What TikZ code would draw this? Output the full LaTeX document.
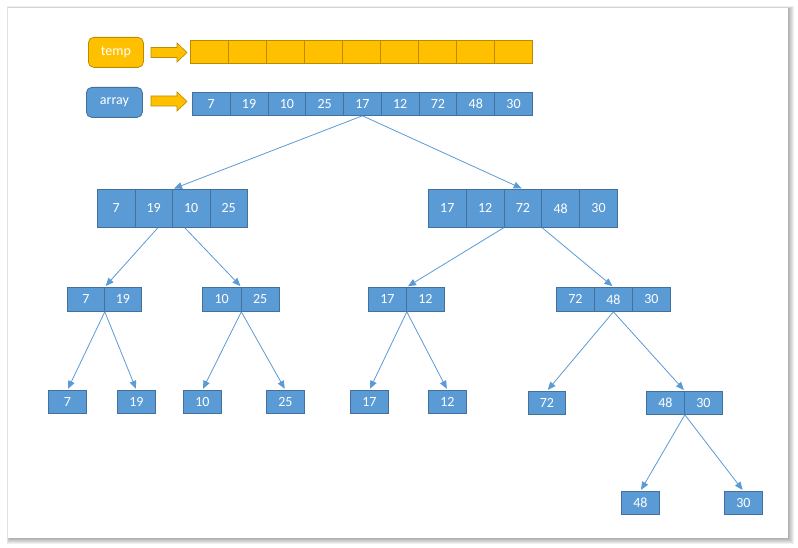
\documentclass[tikz,border=0pt]{standalone}
\usepackage{fontspec}
\setmainfont{Carlito}
\usetikzlibrary{arrows.meta,calc}
\definecolor{bfill}{HTML}{5B9BD5}
\definecolor{bdraw}{HTML}{41719C}
\definecolor{ofill}{HTML}{FFC000}
\definecolor{odraw}{HTML}{BC8C00}
\definecolor{acol}{HTML}{5B9BD5}
\tikzset{
  cellbox/.style={draw=bdraw,fill=bfill,text=white,inner sep=0pt,anchor=north west,line width=0.6pt,font=\fontsize{10.5}{12}\selectfont,text depth=-1pt},
  tcell/.style={draw=odraw,fill=ofill,inner sep=0pt,anchor=north west,line width=0.6pt},
  labbox/.style={rounded corners=4pt,text=white,inner sep=0pt,anchor=north west,line width=0.6pt,font=\fontsize{10.5}{12}\selectfont},
  arr/.style={draw=acol,line width=0.6pt,-{Triangle[length=6pt,width=5pt]},shorten >=1pt},
  barrow/.style={fill=ofill,draw=odraw,line width=0.5pt},
}
\newcommand\brow[6]{%
  \foreach \v [count=\i] in {#6} {
    \node[cellbox,minimum width=#4*0.75pt,minimum height=#5*0.75pt] (#1-\i) at ({#2+(\i-1)*#4},#3) {\v};
  }}
\begin{document}
\begin{tikzpicture}[x=0.75pt,y=-0.75pt]
\useasboundingbox (0,0) rectangle (798,548);
% frame with shadow
\foreach \k in {0,1,2,3,4,5} {
  \fill[black,opacity=0.06] ({8-\k*0.5+1},{8-\k*0.5+1}) rectangle ({788+\k+1},{538+\k+1});
}
\fill[white] (8,8) rectangle (788,538);
% labels
\node[labbox,draw=odraw,fill=ofill,minimum width=55*0.75pt,minimum height=30*0.75pt] (temp) at (88,37) {temp};
\node[labbox,draw=bdraw,fill=bfill,minimum width=56*0.75pt,minimum height=30*0.75pt] (arrlab) at (86,87) {array};
% block arrows
\draw[barrow] (151,47.5) -- (177,47.5) -- (177,43) -- (187,52.5) -- (177,62) -- (177,57.5) -- (151,57.5) -- cycle;
\draw[barrow] (151,96) -- (177,96) -- (177,92) -- (187,101.5) -- (177,111) -- (177,106) -- (151,106) -- cycle;
% temp array
\foreach \i in {1,...,9} {
  \node[tcell,minimum width=38*0.75pt,minimum height=23*0.75pt] (T-\i) at ({190+(\i-1)*38},40) {};
}
% arrays
\brow{A}{192}{92}{37.78}{23}{7,19,10,25,17,12,72,48,30}
\brow{L}{97}{189}{37.5}{38}{7,19,10,25}
\brow{R}{428}{189}{37.8}{38}{17,12,72,48,30}
\brow{LL}{67}{287}{37}{24}{7,19}
\brow{LR}{202}{287}{38.5}{24}{10,25}
\brow{RL}{368}{287}{38}{24}{17,12}
\brow{RR}{556}{287}{38}{24}{72,48,30}
\brow{Ca}{48}{390}{38}{23}{7}
\brow{Cb}{117}{390}{38}{23}{19}
\brow{Cc}{183}{390}{38}{23}{10}
\brow{Cd}{266}{390}{38}{23}{25}
\brow{Ce}{350}{390}{38}{23}{17}
\brow{Cf}{428}{390}{38}{23}{12}
\brow{Cg}{528}{391}{37}{23}{72}
\brow{RRR}{646}{391}{38}{23}{48,30}
\brow{Ch}{621}{491}{38}{23}{48}
\brow{Ci}{724}{491}{38}{23}{30}
% connectors
\draw[arr] (A-5.south) -- (L-2.north east);
\draw[arr] (A-5.south) -- (R-3.north);
\draw[arr] ($(L-2.south east)+(-15,0)$) -- (LL-1.north east);
\draw[arr] ($(L-2.south east)+(12,0)$) -- (LR-1.north east);
\draw[arr] (R-3.south west) -- (RL-1.north east);
\draw[arr] (R-3.south east) -- (RR-2.north);
\draw[arr] (LL-1.south east) -- (Ca-1.north);
\draw[arr] (LL-1.south east) -- (Cb-1.north);
\draw[arr] (LR-1.south east) -- (Cc-1.north);
\draw[arr] (LR-1.south east) -- (Cd-1.north);
\draw[arr] (RL-1.south east) -- (Ce-1.north);
\draw[arr] (RL-1.south east) -- (Cf-1.north);
\draw[arr] (RR-2.south) -- (Cg-1.north);
\draw[arr] (RR-2.south) -- (RRR-1.north east);
\draw[arr] (RRR-1.south east) -- (Ch-1.north);
\draw[arr] (RRR-1.south east) -- (Ci-1.north);
\end{tikzpicture}
\end{document}
